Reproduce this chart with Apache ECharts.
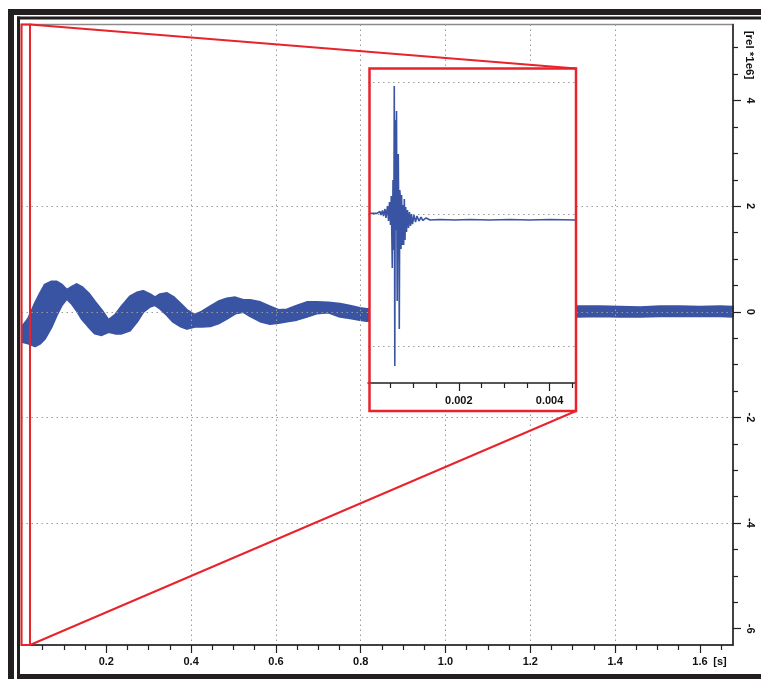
<!DOCTYPE html>
<html><head><meta charset="utf-8">
<script src="https://cdn.jsdelivr.net/npm/echarts@6/dist/echarts.min.js"></script>
<style>html,body{margin:0;padding:0;background:#fff}#c{width:761px;height:679px}</style>
</head><body><div id="c"></div>
<script>
// ---- main signal envelope (time in s, values in rel*1e6) ----
const mainT = [0.002,0.016,0.032,0.044,0.055,0.071,0.083,0.095,0.107,0.118,0.130,0.142,0.158,0.173,0.189,0.205,0.221,0.236,0.256,0.272,0.287,0.303,0.315,0.327,0.343,0.358,0.374,0.390,0.409,0.425,0.445,0.464,0.484,0.504,0.523,0.539,0.563,0.586,0.606,0.626,0.649,0.673,0.696,0.724,0.751,0.775,0.798,0.814,
  1.311,1.364,1.412,1.459,1.506,1.553,1.600,1.647,1.678];
const mainUpper = [-0.28,-0.13,0.16,0.35,0.51,0.57,0.57,0.51,0.41,0.47,0.52,0.47,0.35,0.19,0.03,-0.16,-0.06,0.10,0.29,0.36,0.39,0.33,0.27,0.33,0.35,0.28,0.16,0.03,-0.06,0.00,0.10,0.19,0.25,0.27,0.22,0.22,0.18,0.10,0.03,0.04,0.11,0.18,0.18,0.17,0.15,0.11,0.07,0.05,
  0.10,0.10,0.09,0.08,0.10,0.10,0.09,0.10,0.09];
const mainLower = [-0.57,-0.60,-0.65,-0.60,-0.51,-0.28,-0.06,0.13,0.25,0.16,0.03,-0.13,-0.28,-0.41,-0.44,-0.38,-0.41,-0.41,-0.35,-0.19,0.00,0.10,0.13,0.06,-0.06,-0.19,-0.27,-0.32,-0.28,-0.28,-0.27,-0.22,-0.13,-0.03,0.00,-0.08,-0.18,-0.23,-0.21,-0.18,-0.15,-0.09,-0.03,-0.01,-0.09,-0.12,-0.15,-0.17,
  -0.09,-0.08,-0.09,-0.09,-0.08,-0.08,-0.08,-0.08,-0.09];

// ---- inset signal (time in s, relative units) ----
const insetT = [0.000029,0.000198,0.000264,0.000286,0.000319,0.000341,0.000374,0.000396,0.000430,0.000452,0.000474,0.000496,0.000513,0.000535,0.000551,0.000568,0.000579,0.000590,0.000601,0.000612,0.000628,0.000643,0.000654,0.000667,0.000683,0.000689,0.000700,0.000716,0.000727,0.000740,0.000756,0.000771,0.000786,0.000800,0.000815,0.000830,0.000848,0.000870,0.000892,0.000914,0.000936,0.000958,0.000980,0.001013,0.001046,0.001079,0.001123,0.001167,0.001211,0.001278,0.001366,0.001586,0.001916,0.002247,0.002687,0.003128,0.003568,0.004009,0.004560];
const insetV = [0.005,0.005,0.019,-0.008,0.027,-0.015,0.038,-0.030,0.061,-0.053,0.091,-0.083,0.136,-0.409,0.258,-0.273,0.970,-1.152,0.712,-0.121,0.780,-0.659,0.258,0.455,-0.348,-0.871,0.182,0.106,-0.265,0.144,-0.235,0.068,-0.235,0.114,-0.197,0.053,-0.136,0.030,-0.106,0.015,-0.091,0.000,-0.076,-0.008,-0.061,-0.015,-0.053,-0.023,-0.049,-0.030,-0.045,-0.042,-0.045,-0.042,-0.045,-0.042,-0.045,-0.042,-0.045];

// ---- tick values ----
const xTickLabels = [0.2,0.4,0.6,0.8,1.0,1.2,1.4,1.6];
const xMinorTicks = [0.05,0.1,0.15,0.25,0.3,0.35,0.45,0.5,0.55,0.65,0.7,0.75,0.85,0.9,0.95,1.05,1.1,1.15,1.25,1.3,1.35,1.45,1.5,1.55,1.65];
const yTickLabels = [-6,-4,-2,0,2,4];
const yMinorTicks = [-5.5,-5,-4.5,-3.5,-3,-2.5,-1.5,-1,-0.5,0.5,1,1.5,2.5,3,3.5,4.5,5];
const insetTickLabels = [0.002,0.004];
const insetMinorTicks = [0.0005,0.001,0.0015,0.0025,0.003,0.0035,0.0045];
const selT = [0, 0.02];

const BLUE = '#3a54a4', RED = '#e8232b', DARK = '#231f20', FONT = 'Liberation Sans';
const X_MIN = 0, X_MAX = 1.678, Y_MIN = -6.31, Y_MAX = 5.44;
const INSET = {left: 368, top: 70, width: 207, height: 313};
const insetBox = {x: 369.5, y: 68.5, w: 206.5, h: 342.5};

const chart = echarts.init(document.getElementById('c'), null, {renderer: 'canvas'});
const dotted = {color: '#9a9a9a', type: [1.5, 3.5], width: 1};
const lblStyle = {fontSize: 11, fontWeight: 'bold', color: '#111', fontFamily: FONT};

chart.setOption({
  animation: false,
  backgroundColor: '#fff',
  grid: [
    {left: 21.5, top: 24.5, right: 28, bottom: 34, show: true, borderColor: '#8a8a8a', borderWidth: 1.5, backgroundColor: 'transparent', containLabel: false},
    {left: INSET.left, top: INSET.top, width: INSET.width, height: INSET.height, show: false, containLabel: false}
  ],
  xAxis: [
    {type: 'value', gridIndex: 0, min: X_MIN, max: X_MAX, interval: 0.2, position: 'bottom', z: 3,
     axisLine: {show: true, onZero: false, lineStyle: {color: DARK, width: 1.5}},
     axisTick: {show: true, length: 8, customValues: xTickLabels, lineStyle: {color: DARK, width: 1.2}},
     axisLabel: Object.assign({show: true, customValues: xTickLabels, margin: 11, formatter: v => v.toFixed(1)}, lblStyle),
     splitLine: {show: true, showMinLine: false, showMaxLine: false, lineStyle: dotted}},
    {type: 'value', gridIndex: 0, min: X_MIN, max: X_MAX, position: 'bottom', z: 3,
     axisLine: {show: false, onZero: false}, axisLabel: {show: false}, splitLine: {show: false},
     axisTick: {show: true, length: 5, customValues: xMinorTicks, lineStyle: {color: DARK, width: 1.2}}},
    {type: 'value', gridIndex: 1, min: 0, max: 0.00456, interval: 0.002, position: 'bottom', z: 5,
     axisLine: {show: true, onZero: false, lineStyle: {color: DARK, width: 1.5}},
     axisTick: {show: true, length: 8, customValues: insetTickLabels, lineStyle: {color: DARK, width: 1.2}},
     axisLabel: Object.assign({show: true, customValues: insetTickLabels, margin: 12, formatter: v => v.toFixed(3)}, lblStyle),
     splitLine: {show: true, showMinLine: false, showMaxLine: false, lineStyle: dotted}},
    {type: 'value', gridIndex: 1, min: 0, max: 0.00456, position: 'bottom', z: 5,
     axisLine: {show: false, onZero: false}, axisLabel: {show: false}, splitLine: {show: false},
     axisTick: {show: true, length: 5, customValues: insetMinorTicks, lineStyle: {color: DARK, width: 1.2}}}
  ],
  yAxis: [
    {type: 'value', gridIndex: 0, min: Y_MIN, max: Y_MAX, splitNumber: 6, position: 'right', z: 3,
     axisLine: {show: true, onZero: false, lineStyle: {color: DARK, width: 1.5}},
     axisTick: {show: true, length: 8, customValues: yTickLabels, lineStyle: {color: DARK, width: 1.2}},
     axisLabel: Object.assign({show: true, customValues: yTickLabels, margin: 12, rotate: -90, formatter: v => String(v)}, lblStyle),
     splitLine: {show: true, showMinLine: false, showMaxLine: false, lineStyle: dotted}},
    {type: 'value', gridIndex: 0, min: Y_MIN, max: Y_MAX, position: 'right', z: 3,
     axisLine: {show: false, onZero: false}, axisLabel: {show: false}, splitLine: {show: false},
     axisTick: {show: true, length: 5, customValues: yMinorTicks, lineStyle: {color: DARK, width: 1.2}}},
    {type: 'value', gridIndex: 1, min: -1.28, max: 1.091, splitNumber: 2, position: 'left', z: 5,
     axisLine: {show: false, onZero: false}, axisTick: {show: false}, axisLabel: {show: false},
     splitLine: {show: true, showMinLine: false, showMaxLine: false, lineStyle: dotted}}
  ],
  series: [
    {type: 'custom', xAxisIndex: 0, yAxisIndex: 0, z: 2, silent: true, clip: true,
     data: mainT.map((t, i) => [t, mainUpper[i], mainLower[i]]),
     renderItem: function (params, api) {
       if (params.dataIndex !== 0) return;
       const up = [], lo = [];
       for (let i = 0; i < mainT.length; i++) {
         up.push(api.coord([mainT[i], mainUpper[i]]));
         lo.push(api.coord([mainT[i], mainLower[i]]));
       }
       return {type: 'polygon', shape: {points: up.concat(lo.reverse())},
               style: {fill: BLUE, stroke: BLUE, lineWidth: 2.4, lineJoin: 'round', opacity: 1}};
     }},
    {type: 'line', xAxisIndex: 2, yAxisIndex: 2, z: 6, showSymbol: false, silent: true, sampling: null,
     data: insetT.map((t, i) => [t, insetV[i]]),
     lineStyle: {color: BLUE, width: 1.6}}
  ]
});

// annotations: frame, inset background, zoom box and connecting lines
const pTop = chart.convertToPixel({xAxisIndex: 0, yAxisIndex: 0}, [selT[0], Y_MAX]);
const pBot = chart.convertToPixel({xAxisIndex: 0, yAxisIndex: 0}, [selT[1], Y_MIN]);
const bx = insetBox.x + insetBox.w, by0 = insetBox.y, by1 = insetBox.y + insetBox.h;
chart.setOption({
  graphic: [
    {type: 'rect', z: 4, silent: true, shape: {x: insetBox.x, y: insetBox.y, width: insetBox.w, height: insetBox.h}, style: {fill: '#fff'}},
    {type: 'rect', z: 20, silent: true, shape: {x: pTop[0], y: pTop[1], width: pBot[0] - pTop[0], height: pBot[1] - pTop[1]}, style: {fill: null, stroke: RED, lineWidth: 2}},
    {type: 'line', z: 20, silent: true, shape: {x1: pBot[0], y1: pTop[1], x2: bx, y2: by0}, style: {stroke: RED, lineWidth: 2}},
    {type: 'line', z: 20, silent: true, shape: {x1: pBot[0], y1: pBot[1], x2: bx, y2: by1}, style: {stroke: RED, lineWidth: 2}},
    {type: 'rect', z: 20, silent: true, shape: {x: insetBox.x, y: insetBox.y, width: insetBox.w, height: insetBox.h}, style: {fill: null, stroke: RED, lineWidth: 2.5}},
    {type: 'text', z: 20, silent: true, x: 720, y: 662, style: {text: '[s]', fontSize: 11, fontWeight: 'bold', fill: '#111', fontFamily: FONT, align: 'center', verticalAlign: 'middle'}},
    {type: 'text', z: 20, silent: true, x: 749, y: 55, rotation: -Math.PI / 2, style: {text: '[rel *1e6]', fontSize: 11.5, fontWeight: 'bold', fill: '#111', fontFamily: FONT, align: 'center', verticalAlign: 'middle'}},
    // window frame
    {type: 'rect', z: 30, silent: true, shape: {x: 8, y: 9, width: 6, height: 670}, style: {fill: DARK}},
    {type: 'rect', z: 30, silent: true, shape: {x: 8, y: 9, width: 753, height: 6}, style: {fill: DARK}},
    {type: 'rect', z: 30, silent: true, shape: {x: 17, y: 16.5, width: 3, height: 662.5}, style: {fill: DARK}},
    {type: 'rect', z: 30, silent: true, shape: {x: 17, y: 16.5, width: 744, height: 3}, style: {fill: DARK}},
    {type: 'rect', z: 30, silent: true, shape: {x: 17, y: 674, width: 744, height: 5}, style: {fill: DARK}}
  ]
});
</script>
</body></html>
